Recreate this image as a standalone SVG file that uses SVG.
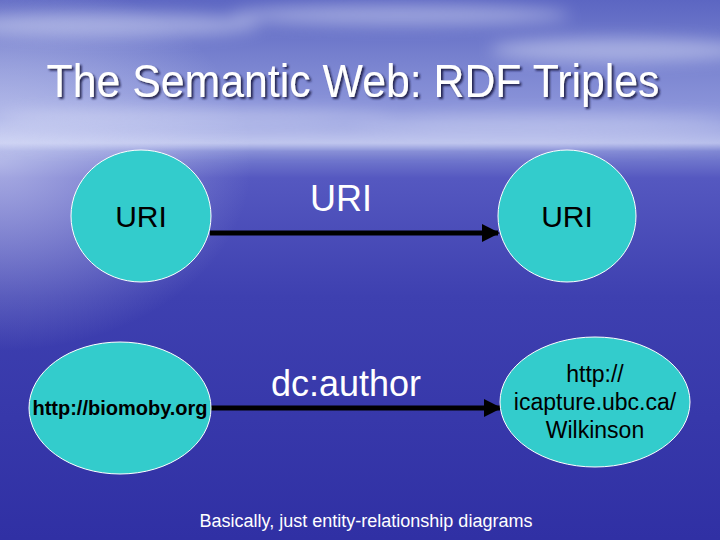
<svg xmlns="http://www.w3.org/2000/svg" width="720" height="540" viewBox="0 0 720 540">
<defs>
<linearGradient id="bg" x1="0" y1="0" x2="0" y2="1">
<stop offset="0" stop-color="#5c66c2"/>
<stop offset="0.12" stop-color="#7a84d0"/>
<stop offset="0.22" stop-color="#8f98dc"/>
<stop offset="0.265" stop-color="#b4bbea"/>
<stop offset="0.28" stop-color="#7c84d2"/>
<stop offset="0.33" stop-color="#5558c0"/>
<stop offset="0.55" stop-color="#3e40b0"/>
<stop offset="1" stop-color="#3030a4"/>
</linearGradient>
<radialGradient id="glow" cx="0" cy="0.3" r="0.35">
<stop offset="0" stop-color="#e0e4fa" stop-opacity="0.6"/>
<stop offset="1" stop-color="#e0e4fa" stop-opacity="0"/>
</radialGradient>
<filter id="blur" x="-30%" y="-100%" width="160%" height="300%"><feGaussianBlur stdDeviation="8"/></filter>
<filter id="ds" x="-5%" y="-20%" width="110%" height="150%"><feDropShadow dx="2" dy="2" stdDeviation="1" flood-color="#141440" flood-opacity="0.9"/></filter>
<marker id="ah" viewBox="0 0 10 10" refX="9" refY="5" markerWidth="3.6" markerHeight="3.6" orient="auto" markerUnits="strokeWidth">
<path d="M0,0 L10,5 L0,10 z" fill="#000"/>
</marker>
<style>
.node{fill:#33cccc;stroke:#ffffff;stroke-width:1}
.t{font-family:"Liberation Sans",Arial,sans-serif;text-anchor:middle}
.dark{fill:#000}
.light{fill:#fff}
.edge{stroke:#000;stroke-width:5;fill:none;marker-end:url(#ah)}
</style>
</defs>
<rect width="720" height="540" fill="url(#bg)"/>
<rect width="720" height="540" fill="url(#glow)"/>
<g filter="url(#blur)" fill="#e6eafb" opacity="0.45">
<ellipse cx="110" cy="25" rx="150" ry="12"/>
<ellipse cx="400" cy="15" rx="170" ry="10"/>
<ellipse cx="620" cy="50" rx="130" ry="12"/>
<ellipse cx="200" cy="118" rx="200" ry="9"/>
<ellipse cx="540" cy="122" rx="200" ry="8"/>
<ellipse cx="360" cy="142" rx="380" ry="5"/>
</g>
<g id="title">
<text x="353" y="97" class="t" font-family="'DejaVu Sans Condensed','DejaVu Sans',sans-serif" font-size="46" fill="#fff" filter="url(#ds)" textLength="613" lengthAdjust="spacingAndGlyphs">The Semantic Web: RDF Triples</text>
</g>
<g id="connectors">
<line class="edge" x1="210" y1="233" x2="498" y2="233"/>
<line class="edge" x1="211" y1="408" x2="500" y2="408"/>
<text x="341" y="211" class="t light" font-size="36">URI</text>
<text x="346" y="396" class="t light" font-size="36">dc:author</text>
</g>
<g id="n1">
<ellipse class="node" cx="141" cy="216" rx="70" ry="66"/>
<text x="141" y="227" class="t dark" font-size="30">URI</text>
</g>
<g id="n2">
<ellipse class="node" cx="567" cy="216" rx="69" ry="66"/>
<text x="567" y="227" class="t dark" font-size="30">URI</text>
</g>
<g id="n3">
<ellipse class="node" cx="120" cy="408" rx="91" ry="66"/>
<text x="120" y="415" class="t dark" font-size="20" font-weight="bold">http://biomoby.org</text>
</g>
<g id="n4">
<ellipse class="node" cx="595" cy="402" rx="95" ry="65"/>
<text class="t dark" font-size="23"><tspan x="595" y="382">http://</tspan><tspan x="595" y="410">icapture.ubc.ca/</tspan><tspan x="595" y="438">Wilkinson</tspan></text>
</g>
<g id="caption">
<text x="366" y="527" class="t light" font-size="18">Basically, just entity-relationship diagrams</text>
</g>
</svg>
